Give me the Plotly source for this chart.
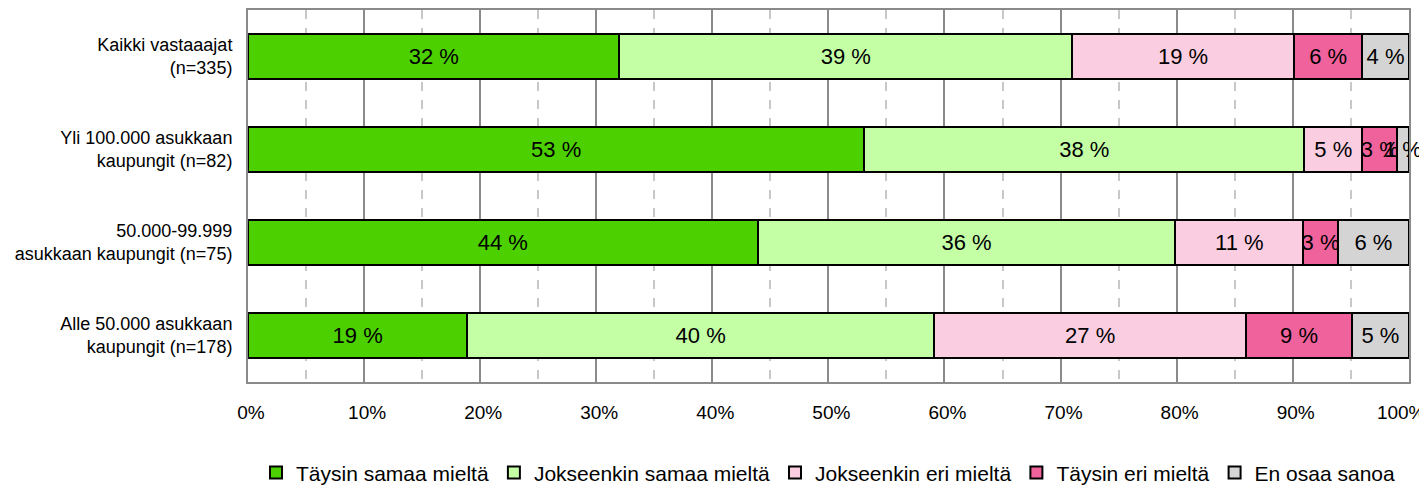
import plotly.graph_objects as go

# Kategoriat (ylhäältä alas) ja vastausjakaumat, %
CATEGORIES = [
    "Kaikki vastaaajat<br>(n=335)",
    "Yli 100.000 asukkaan<br>kaupungit (n=82)",
    "50.000-99.999<br>asukkaan kaupungit (n=75)",
    "Alle 50.000 asukkaan<br>kaupungit (n=178)",
]
SERIES = [
    "Täysin samaa mieltä",
    "Jokseenkin samaa mieltä",
    "Jokseenkin eri mieltä",
    "Täysin eri mieltä",
    "En osaa sanoa",
]
TAYSIN_SAMAA = [32.0, 53.1, 43.9, 18.9]
JOKSEENKIN_SAMAA = [39.0, 37.9, 36.0, 40.2]
JOKSEENKIN_ERI = [19.1, 5.0, 11.0, 26.9]
TAYSIN_ERI = [5.9, 3.0, 3.0, 9.1]
EN_OSAA = [4.0, 1.0, 6.1, 4.9]
X_TICKS = [0, 10, 20, 30, 40, 50, 60, 70, 80, 90, 100]
X_MINOR = [5, 15, 25, 35, 45, 55, 65, 75, 85, 95]

COLORS = ["#4CD000", "#C4FFA6", "#FBCDE0", "#F0629C", "#D4D4D4"]
FONT = "Liberation Sans, Arial, sans-serif"

# viimeinen nimiö siirtyy vasemmalle kuten alkuperäisessä (nbsp-täyte)
X_TICKTEXT = [f"{v}%" for v in X_TICKS]
X_TICKTEXT[-1] = X_TICKTEXT[-1] + "\u00a0" * 4

fig = go.Figure()
for name, vals, col in zip(
    SERIES,
    [TAYSIN_SAMAA, JOKSEENKIN_SAMAA, JOKSEENKIN_ERI, TAYSIN_ERI, EN_OSAA],
    COLORS,
):
    fig.add_trace(go.Bar(
        y=CATEGORIES, x=vals, name=name, orientation="h",
        marker=dict(color=col, line=dict(color="black", width=2)),
        texttemplate="%{x:.0f} %", textposition="inside", textangle=0,
        insidetextanchor="middle", constraintext="none", cliponaxis=False,
        textfont=dict(family=FONT, size=22, color="black"),
        hovertemplate="%{y}: %{x} %<extra>" + name + "</extra>",
    ))

# 5 %:n välein katkoviivat (apuruudukko)
fig.update_xaxes(
    range=[0, 100.02], tickvals=X_TICKS, ticktext=X_TICKTEXT,
    ticklabeloverflow="allow", ticklabelshift=3, automargin=False,
    showgrid=True, gridcolor="#8A8A8A", gridwidth=1.5,
    minor=dict(tickvals=X_MINOR, showgrid=True,
               gridcolor="#C8C8C8", griddash="dash", gridwidth=1.5),
    showline=True, linecolor="#8A8A8A", linewidth=2, mirror=True,
    ticks="", tickfont=dict(family=FONT, size=19, color="black"),
    zeroline=False, ticklabelstandoff=12,
)
fig.update_yaxes(
    autorange="reversed", showline=True, linecolor="#8A8A8A", linewidth=2,
    mirror=True, ticks="", tickfont=dict(family=FONT, size=18, color="black"),
    ticklabelstandoff=10, automargin=False,
)
# sivun 8 px:n reunus huomioitu marginaaleissa
fig.update_layout(
    barmode="stack", bargap=0.52,
    width=1427, height=486,
    margin=dict(l=240, r=26, t=2, b=111),
    plot_bgcolor="white", paper_bgcolor="white",
    font=dict(family=FONT, color="black"),
    legend=dict(
        orientation="h", x=0.5, xanchor="center", y=-0.241, yanchor="middle",
        font=dict(family=FONT, size=21, color="black"),
        traceorder="normal", itemwidth=30,
    ),
)

fig.write_html("out.html")
